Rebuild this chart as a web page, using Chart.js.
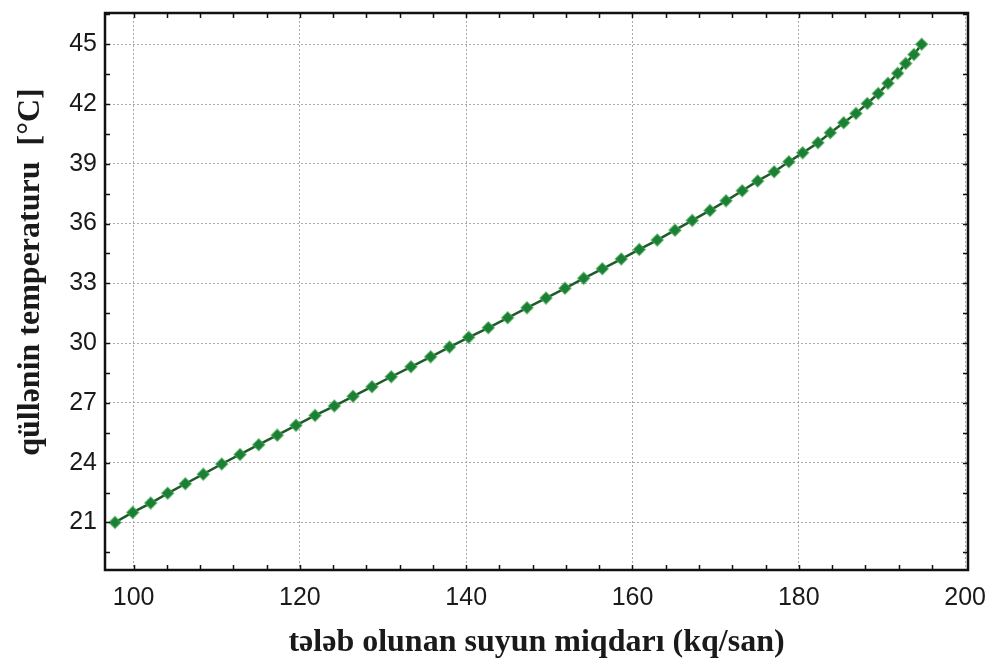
<!DOCTYPE html>
<html>
<head>
<meta charset="utf-8">
<script src="https://cdn.jsdelivr.net/npm/chart.js@4.4.1/dist/chart.umd.min.js"></script>
<style>
  html, body { margin: 0; padding: 0; background: #fff; }
  #wrap { width: 991px; height: 664px; }
</style>
</head>
<body>
<div id="wrap"><canvas id="towerChart" width="991" height="664"></canvas></div>
<script>
// water flow (kq/san)
var flowRate = [
  97.76, 99.89, 102.06, 104.10, 106.22, 108.38, 110.60, 112.80, 115.05, 117.28,
  119.53, 121.82, 124.14, 126.39, 128.67, 130.99, 133.36, 135.73, 137.99, 140.30,
  142.66, 144.99, 147.31, 149.60, 151.88, 154.13, 156.37, 158.65, 160.82, 162.98,
  165.11, 167.19, 169.32, 171.25, 173.20, 175.06, 177.04, 178.81, 180.47, 182.31,
  183.79, 185.40, 186.88, 188.24, 189.56, 190.73, 191.89, 192.86, 193.85, 194.78
];
// tower temperature (°C)
var towerTemp = [
  21.00, 21.50, 21.97, 22.46, 22.94, 23.42, 23.93, 24.41, 24.90, 25.38,
  25.87, 26.37, 26.84, 27.33, 27.81, 28.31, 28.81, 29.31, 29.80, 30.29,
  30.77, 31.27, 31.77, 32.26, 32.75, 33.25, 33.73, 34.22, 34.70, 35.17,
  35.67, 36.16, 36.66, 37.14, 37.65, 38.14, 38.60, 39.10, 39.55, 40.06,
  40.56, 41.06, 41.53, 42.03, 42.53, 43.04, 43.54, 44.04, 44.49, 45.00
];
// tick labels
var xTicks = [100, 120, 140, 160, 180, 200];
var yTicks = [21, 24, 27, 30, 33, 36, 39, 42, 45];
// small tick marks on the frame
var xMinorTicks = [100, 104, 108, 112, 116, 120, 124, 128, 132, 136, 140, 144, 148, 152, 156, 160, 164, 168, 172, 176, 180, 184, 188, 192, 196];
var yMinorTicks = [19.5, 21, 22.5, 24, 25.5, 27, 28.5, 30, 31.5, 33, 34.5, 36, 37.5, 39, 40.5, 42, 43.5, 45, 46.5];

var xTitle = "tələb olunan suyun miqdarı (kq/san)";
var yTitle = "qüllənin temperaturu  [°C]";

var points = [];
for (var i = 0; i < flowRate.length; i++) {
  points.push({ x: flowRate[i], y: towerTemp[i] });
}

// frame, inward tick marks and the y title
var framePlugin = {
  id: "frame",
  afterDraw: function (chart) {
    var ctx = chart.ctx;
    var a = chart.chartArea;
    var xs = chart.scales.x, ys = chart.scales.y;
    ctx.save();
    ctx.strokeStyle = "#111";
    ctx.lineWidth = 1.5;
    ctx.beginPath();
    xMinorTicks.forEach(function (v) {
      var px = Math.round(xs.getPixelForValue(v)) + 0.5;
      ctx.moveTo(px, a.bottom); ctx.lineTo(px, a.bottom - 5);
      ctx.moveTo(px, a.top); ctx.lineTo(px, a.top + 5);
    });
    yMinorTicks.forEach(function (v) {
      var py = Math.round(ys.getPixelForValue(v)) + 0.5;
      ctx.moveTo(a.left, py); ctx.lineTo(a.left + 5, py);
      ctx.moveTo(a.right, py); ctx.lineTo(a.right - 5, py);
    });
    ctx.stroke();
    ctx.lineWidth = 2.5;
    ctx.strokeRect(a.left, a.top, a.right - a.left, a.bottom - a.top);

    ctx.translate(31, 272);
    ctx.rotate(-Math.PI / 2);
    ctx.fillStyle = "#1a1a1a";
    ctx.font = "bold 32px 'Liberation Serif', 'Times New Roman', serif";
    ctx.textAlign = "center";
    ctx.textBaseline = "middle";
    ctx.fillText(yTitle, 0, 0);
    ctx.restore();
  }
};

var ctx = document.getElementById("towerChart").getContext("2d");
var towerChart = new Chart(ctx, {
  type: "line",
  data: {
    datasets: [{
      data: points,
      borderColor: "#1f5a2a",
      borderWidth: 2.5,
      pointStyle: "rectRot",
      pointRadius: 6,
      pointBackgroundColor: "#1b7f35",
      pointBorderColor: "rgba(70,170,80,0.55)",
      pointBorderWidth: 1.5,
      tension: 0
    }]
  },
  options: {
    responsive: false,
    animation: false,
    devicePixelRatio: 1,
    layout: { padding: { left: 0, top: 13, right: 23, bottom: 0 } },
    plugins: {
      legend: { display: false },
      tooltip: { enabled: false }
    },
    scales: {
      x: {
        type: "linear",
        min: 96.56,
        max: 200.35,
        afterBuildTicks: function (scale) {
          scale.ticks = xTicks.map(function (v) { return { value: v }; });
        },
        afterFit: function (scale) {
          scale.height = 94;
          scale.paddingLeft = 0;
          scale.paddingRight = 0;
        },
        grid: { color: "#a8a8a8", lineWidth: 1, drawTicks: false },
        border: { display: false, dash: [2, 2] },
        ticks: {
          padding: 13,
          maxRotation: 0,
          autoSkip: false,
          color: "#1a1a1a",
          font: { family: "'Liberation Sans', Arial, sans-serif", size: 25 }
        },
        title: {
          display: true,
          text: xTitle,
          color: "#1a1a1a",
          padding: { top: 0, bottom: 2 },
          font: { family: "'Liberation Serif', 'Times New Roman', serif", size: 32, weight: "bold" }
        }
      },
      y: {
        type: "linear",
        min: 18.61,
        max: 46.57,
        afterBuildTicks: function (scale) {
          scale.ticks = yTicks.map(function (v) { return { value: v }; });
        },
        afterFit: function (scale) {
          scale.width = 105;
          scale.paddingTop = 0;
          scale.paddingBottom = 0;
        },
        grid: { color: "#a8a8a8", lineWidth: 1, drawTicks: false },
        border: { display: false, dash: [2, 2] },
        ticks: {
          padding: 8,
          color: "#1a1a1a",
          font: { family: "'Liberation Sans', Arial, sans-serif", size: 25 }
        }
      }
    }
  },
  plugins: [framePlugin]
});
</script>
</body>
</html>
